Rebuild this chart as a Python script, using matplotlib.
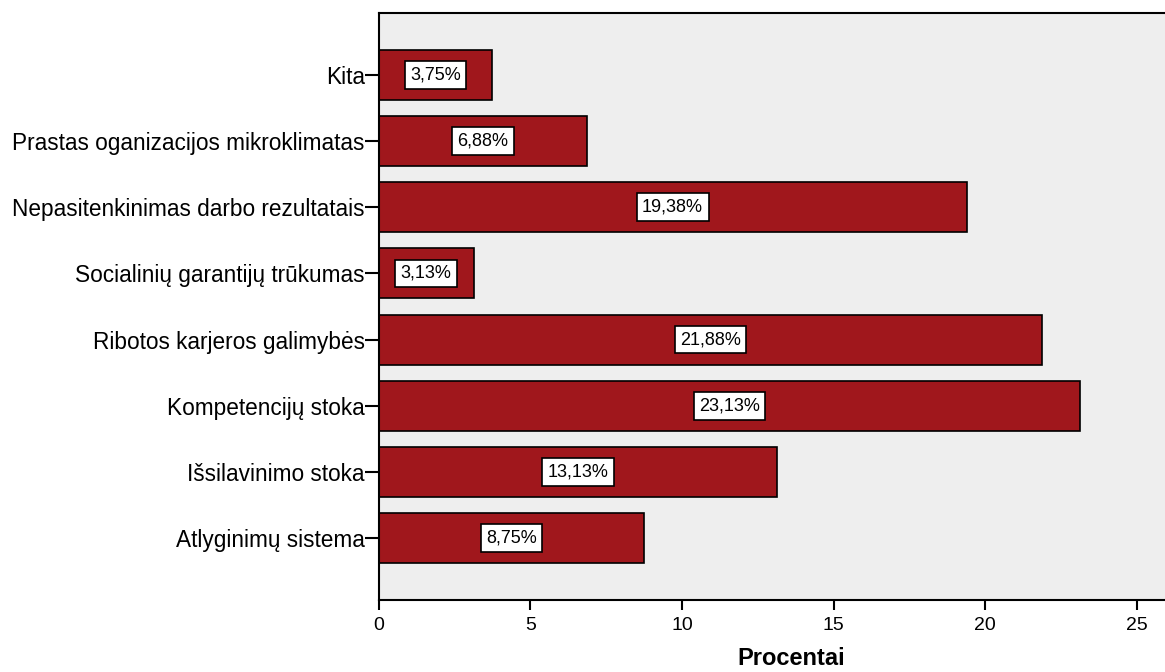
import matplotlib
matplotlib.use("Agg")
import matplotlib.pyplot as plt

categories = ["Atlyginimų sistema", "Išsilavinimo stoka", "Kompetencijų stoka",
              "Ribotos karjeros galimybės", "Socialinių garantijų trūkumas",
              "Nepasitenkinimas darbo rezultatais", "Prastas oganizacijos mikroklimatas", "Kita"]
values = [8.75, 13.13, 23.13, 21.88, 3.13, 19.38, 6.88, 3.75]
xticks = [0, 5, 10, 15, 20, 25]

plt.rcParams['font.family'] = ['Liberation Sans', 'DejaVu Sans']

fig = plt.figure(figsize=(11.65, 6.72), dpi=100)
W, H = 1165, 672
ax = fig.add_axes([378.7 / W, 1 - 600 / H, (1165 - 378.7) / W + 0.002, (600 - 13) / H])
ax.set_facecolor('#EEEEEE')

pos = list(range(len(categories)))
ax.barh(pos, values, height=0.756, color='#A0171C', edgecolor='black', linewidth=1.2, zorder=2)
for p, v in zip(pos, values):
    ax.text(v / 2, p, f"{v:.2f}".replace('.', ',') + '%', ha='center', va='center', fontsize=13,
            bbox=dict(boxstyle='square,pad=0.3', fc='white', ec='black', lw=1.2), zorder=3)

ax.set_xlim(0, 26)
ax.set_ylim(-0.94, 7.94)
ax.set_yticks(pos)
ax.set_yticklabels(categories, fontsize=16.3)
ax.set_xticks(xticks)
ax.set_xticklabels([str(t) for t in xticks], fontsize=14)
ax.tick_params(axis='y', length=10, width=1.5, pad=0)
ax.tick_params(axis='x', length=7, width=1.5, pad=5)
for s in ['left', 'bottom', 'top']:
    ax.spines[s].set_linewidth(1.5)
ax.spines['right'].set_visible(False)
fig.text(791 / W, 1 - 670 / H, 'Procentai', fontsize=17, fontweight='bold',
         ha='center', va='bottom')

fig.savefig('out.png', dpi=100)
